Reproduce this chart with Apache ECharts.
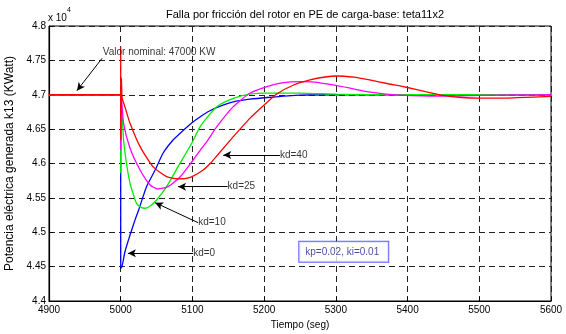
<!DOCTYPE html>
<html><head><meta charset="utf-8">
<script src="https://cdn.jsdelivr.net/npm/echarts@6/dist/echarts.min.js"></script>
<style>html,body{margin:0;padding:0;background:#fff}#c{width:566px;height:334px}</style>
</head><body><div id="c"></div>
<script>
const titleText = 'Falla por fricción del rotor en PE de carga-base: teta11x2';
const xName = 'Tiempo (seg)';
const yName = 'Potencia eléctrica generada k13 (KWatt)';
const xTicks = [4900, 5000, 5100, 5200, 5300, 5400, 5500, 5600];
const yTicks = [44000, 44500, 45000, 45500, 46000, 46500, 47000, 47500, 48000];

// [time (s), power (KW)]
const kd0 = [[4900,47000],[5000,47000],[5000,44500],[5001,44480],[5006,44720],[5013,44960],[5020,45180],[5025,45324],[5036,45663],[5048,45905],[5059,46149],[5073,46342],[5087,46480],[5099,46590],[5111,46680],[5123,46760],[5138,46830],[5157,46895],[5180,46935],[5204,46960],[5250,46995],[5300,47000],[5600,47000]];
const kd10 = [[4900,47000],[5000,47000],[5000,45860],[5001,46900],[5002,46700],[5004,46342],[5008,46000],[5013,45712],[5018,45540],[5022,45421],[5028,45365],[5034,45349],[5042,45390],[5050,45469],[5064,45663],[5080,45954],[5099,46294],[5111,46540],[5134,46827],[5157,46948],[5180,47010],[5204,47025],[5250,47025],[5300,47008],[5350,47000],[5600,47000]];
const kd25 = [[4900,47000],[5000,47000],[5000,46200],[5001,46950],[5004,46585],[5013,46221],[5027,45905],[5041,45687],[5052,45629],[5066,45663],[5083,45808],[5101,46051],[5111,46196],[5120,46317],[5134,46535],[5157,46827],[5180,47021],[5204,47118],[5227,47176],[5250,47192],[5270,47185],[5296,47143],[5320,47095],[5343,47046],[5370,47010],[5398,46990],[5430,46982],[5459,46980],[5500,46990],[5550,46998],[5600,47000]];
const kd40 = [[4900,47000],[5000,47000],[5000,47700],[5000,46340],[5001,47240],[5002,46950],[5006,46820],[5013,46585],[5027,46245],[5045,45954],[5064,45808],[5080,45775],[5097,45799],[5115,45905],[5125,46003],[5138,46160],[5157,46390],[5180,46657],[5200,46851],[5217,47007],[5241,47142],[5264,47215],[5285,47258],[5301,47273],[5325,47255],[5347,47215],[5373,47160],[5398,47109],[5425,47045],[5450,46990],[5475,46960],[5501,46950],[5530,46950],[5553,46958],[5600,46975]];

const seriesNames = ['kd=0', 'kd=10', 'kd=25', 'kd=40'];
const seriesColors = ['#0000ff', '#00ee00', '#ff00ff', '#ff0000'];
const seriesData = [kd0, kd10, kd25, kd40];

// annotation texts at [time, power] anchors, arrows from tail to head in data units
const noteTexts = ['Valor nominal: 47000 KW', 'kd=40', 'kd=25', 'kd=10', 'kd=0'];
const noteAnchors = [[4975, 47622], [5222, 46124], [5149, 45663], [5108, 45139], [5101, 44694]];
const arrowTails = [[4974, 47530], [5222, 46124], [5149, 45663], [5108, 45139], [5101, 44694]];
const arrowHeads = [[4939, 47060], [5143, 46124], [5080, 45663], [5048, 45430], [5010, 44694]];
const boxText = 'kp=0.02, ki=0.01';
const boxAnchor = [5249, 44715];

const chart = echarts.init(document.getElementById('c'), null, {renderer: 'canvas'});
const FONT = 'Liberation Sans, Arial, sans-serif';

const lineSeries = seriesData.map((d, i) => ({
  name: seriesNames[i], type: 'line', data: d, showSymbol: false, symbol: 'none',
  smooth: 0.2,
  lineStyle: {color: seriesColors[i], width: 1.3}, itemStyle: {color: seriesColors[i]},
  animation: false, z: 3 + i
}));

const noteSeries = {
  type: 'scatter', symbolSize: 0, animation: false, z: 10,
  data: noteAnchors.map((a, i) => ({value: a, label: {show: true, position: 'right', distance: 0,
    formatter: noteTexts[i], color: '#000', fontSize: 10, fontFamily: FONT}})),
  markLine: {
    silent: true, animation: false, symbol: ['none', 'arrow'], symbolSize: [6, 8],
    lineStyle: {color: '#000', width: 1, type: 'solid'}, label: {show: false},
    data: arrowTails.map((t, i) => [{coord: t}, {coord: arrowHeads[i]}])
  }
};

const boxSeries = {
  type: 'scatter', symbolSize: 0, animation: false, z: 11,
  data: [{value: boxAnchor, label: {show: true, position: 'right', distance: 0, formatter: boxText,
    color: '#1c1c8a', fontSize: 10, fontFamily: FONT, backgroundColor: '#fff',
    borderColor: '#3a3aff', borderWidth: 1, padding: [5, 9, 5, 6]}}]
};

chart.setOption({
  animation: false,
  backgroundColor: '#fff',
  textStyle: {fontFamily: FONT},
  title: {text: titleText, left: 300, textAlign: 'center', top: 4,
    textStyle: {fontSize: 11, fontWeight: 'normal', color: '#000', fontFamily: FONT}},
  grid: {left: 49, right: 15, top: 26, bottom: 33, containLabel: false, outerBoundsMode: 'none',
    show: true, borderColor: '#000', borderWidth: 1, backgroundColor: '#fff'},
  xAxis: {
    type: 'value', min: xTicks[0], max: xTicks[xTicks.length - 1], interval: 100,
    name: xName, nameLocation: 'middle', nameGap: 19,
    nameTextStyle: {fontSize: 10, color: '#000', fontFamily: FONT},
    axisLine: {lineStyle: {color: '#000', width: 1.2}},
    axisTick: {inside: true, length: 4, lineStyle: {color: '#000'}},
    axisLabel: {color: '#000', fontSize: 10, margin: 4, fontFamily: FONT, formatter: v => String(v)},
    splitLine: {show: true, lineStyle: {color: '#222', type: [6, 4], width: 1}}
  },
  yAxis: {
    type: 'value', min: yTicks[0], max: yTicks[yTicks.length - 1], interval: 500,
    name: yName, nameLocation: 'middle', nameGap: 30, nameRotate: 90,
    nameTextStyle: {fontSize: 12, color: '#000', fontFamily: FONT},
    axisLine: {lineStyle: {color: '#000', width: 1.2}},
    axisTick: {inside: true, length: 4, lineStyle: {color: '#000'}},
    axisLabel: {color: '#000', fontSize: 10, margin: 3, fontFamily: FONT,
      formatter: v => String(+(v / 10000).toFixed(2))},
    splitLine: {show: true, lineStyle: {color: '#222', type: [6, 4], width: 1}}
  },
  graphic: [{
    type: 'text', left: 48, top: 7,
    style: {text: '{a|x 10}{b|4}', fill: '#000', font: '10px ' + FONT,
      rich: {a: {fontSize: 10, fontFamily: FONT, verticalAlign: 'bottom', padding: [6, 0, 0, 0]},
             b: {fontSize: 7, fontFamily: FONT, verticalAlign: 'top'}}}
  }],
  series: [...lineSeries, noteSeries, boxSeries]
});
</script></body></html>
